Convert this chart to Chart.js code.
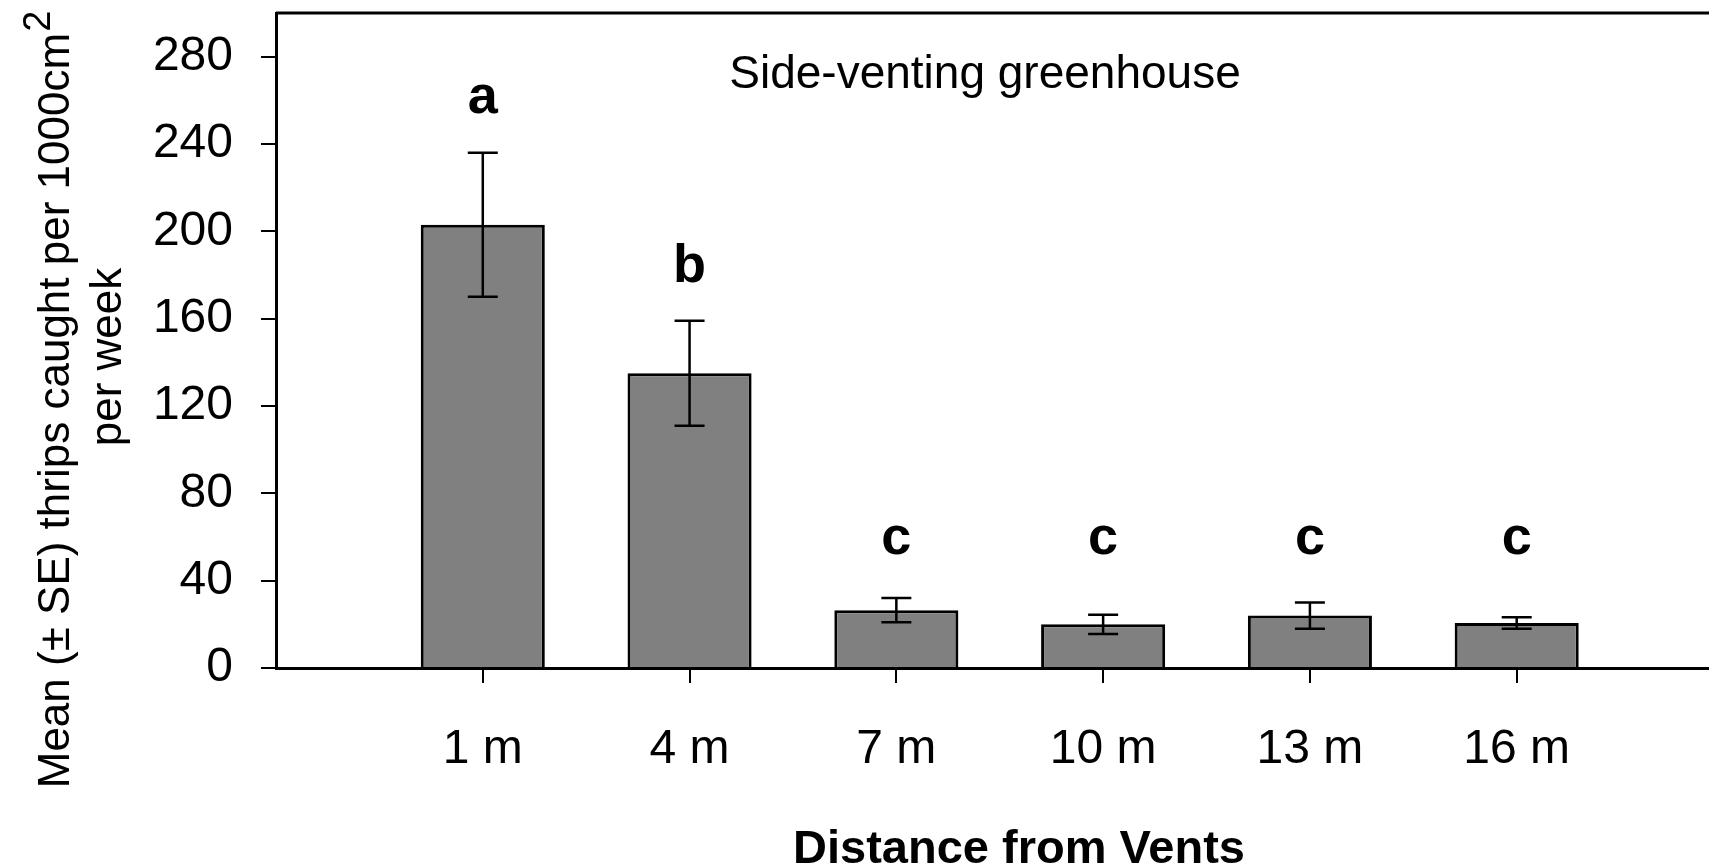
<!DOCTYPE html>
<html>
<head>
<meta charset="utf-8">
<script src="https://cdn.jsdelivr.net/npm/chart.js@4"></script>
<style>
  html, body { margin: 0; padding: 0; background: #fff; overflow: hidden; }
  .chart-box { width: 1709px; height: 868px; position: relative; }
</style>
</head>
<body>
<div class="chart-box"><canvas id="chart"></canvas></div>
<script>
// values
const distances = ['1 m', '4 m', '7 m', '10 m', '13 m', '16 m'];
const meanThrips = [203, 135, 26.5, 20, 24, 20.6];
const seThrips = [33, 24, 5.6, 4.4, 6, 2.6];
const groupLetters = ['a', 'b', 'c', 'c', 'c', 'c'];
const yTicks = [0, 40, 80, 120, 160, 200, 240, 280];

const FONT = '"Liberation Sans", Arial, sans-serif';

const annotate = {
    id: 'annotate',
    afterDatasetsDraw(chart) {
        const { ctx, chartArea } = chart;
        const x = chart.scales.x;
        const y = chart.scales.y;
        ctx.save();
        ctx.strokeStyle = '#000';
        ctx.fillStyle = '#000';

        // top of the frame
        ctx.lineWidth = 3;
        ctx.beginPath();
        ctx.moveTo(chartArea.left, chartArea.top);
        ctx.lineTo(chartArea.right, chartArea.top);
        ctx.stroke();

        // error bars + letters
        ctx.lineWidth = 2.5;
        ctx.font = 'bold 54px ' + FONT;
        ctx.textAlign = 'center';
        ctx.textBaseline = 'alphabetic';
        meanThrips.forEach((m, i) => {
            const px = x.getPixelForValue(i);
            const top = y.getPixelForValue(m + seThrips[i]);
            const bot = y.getPixelForValue(m - seThrips[i]);
            ctx.beginPath();
            ctx.moveTo(px, top); ctx.lineTo(px, bot);
            ctx.moveTo(px - 15, top); ctx.lineTo(px + 15, top);
            ctx.moveTo(px - 15, bot); ctx.lineTo(px + 15, bot);
            ctx.stroke();
            const ly = y.getPixelForValue(Math.max(m + seThrips[i] + 18, 52));
            ctx.fillText(groupLetters[i], px, ly);
        });

        // inner title
        ctx.font = '46px ' + FONT;
        ctx.fillText('Side-venting greenhouse', 985, 88);

        // x axis title
        ctx.font = 'bold 47px ' + FONT;
        ctx.fillText('Distance from Vents', 1019, 863);

        // y axis title, two lines rotated
        ctx.font = '44px ' + FONT;
        const main = 'Mean (\u00b1 SE) thrips caught per 1000cm';
        const wMain = ctx.measureText(main).width;
        ctx.font = '38px ' + FONT;
        const wSup = ctx.measureText('2').width;
        ctx.save();
        ctx.translate(69, 400);
        ctx.rotate(-Math.PI / 2);
        ctx.textAlign = 'left';
        const start = -(wMain + wSup) / 2;
        ctx.font = '44px ' + FONT;
        ctx.fillText(main, start, 0);
        ctx.font = '38px ' + FONT;
        ctx.fillText('2', start + wMain + 1, -19);
        ctx.restore();

        ctx.save();
        ctx.translate(121, 357);
        ctx.rotate(-Math.PI / 2);
        ctx.font = '44px ' + FONT;
        ctx.textAlign = 'center';
        ctx.fillText('per week', 0, 0);
        ctx.restore();

        ctx.restore();
    }
};

new Chart(document.getElementById('chart'), {
    type: 'bar',
    data: {
        datasets: [{
            data: meanThrips.map((v, i) => ({ x: i, y: v })),
            backgroundColor: '#808080',
            borderColor: '#000',
            borderWidth: 3,
            barPercentage: 0.6,
            categoryPercentage: 1
        }]
    },
    options: {
        responsive: true,
        maintainAspectRatio: false,
        animation: false,
        layout: { padding: { top: 13, right: 0, left: 0, bottom: 0 } },
        plugins: {
            legend: { display: false },
            tooltip: { enabled: false }
        },
        scales: {
            x: {
                type: 'linear',
                offset: false,
                min: -1,
                max: 5.93,
                afterBuildTicks: (scale) => {
                    scale.ticks = distances.map((_, i) => ({ value: i }));
                },
                afterFit: (scale) => {
                    scale.height = 200;
                    scale.paddingLeft = 0;
                    scale.paddingRight = 0;
                },
                ticks: {
                    autoSkip: false,
                    maxRotation: 0,
                    padding: 38,
                    color: '#000',
                    font: { family: FONT, size: 48 },
                    callback: (v) => distances[v]
                },
                grid: { offset: false, drawOnChartArea: false, tickLength: 15, color: '#000', lineWidth: 2 },
                border: { color: '#000', width: 3 }
            },
            y: {
                min: 0,
                max: 300,
                afterBuildTicks: (scale) => {
                    scale.ticks = yTicks.map(v => ({ value: v }));
                },
                afterFit: (scale) => {
                    scale.width = 276;
                    scale.paddingTop = 0;
                    scale.paddingBottom = 0;
                },
                ticks: {
                    padding: 28,
                    color: '#000',
                    font: { family: FONT, size: 48 }
                },
                grid: { drawOnChartArea: false, tickLength: 15, color: '#000', lineWidth: 2 },
                border: { color: '#000', width: 3 }
            }
        }
    },
    plugins: [annotate]
});
</script>
</body>
</html>
